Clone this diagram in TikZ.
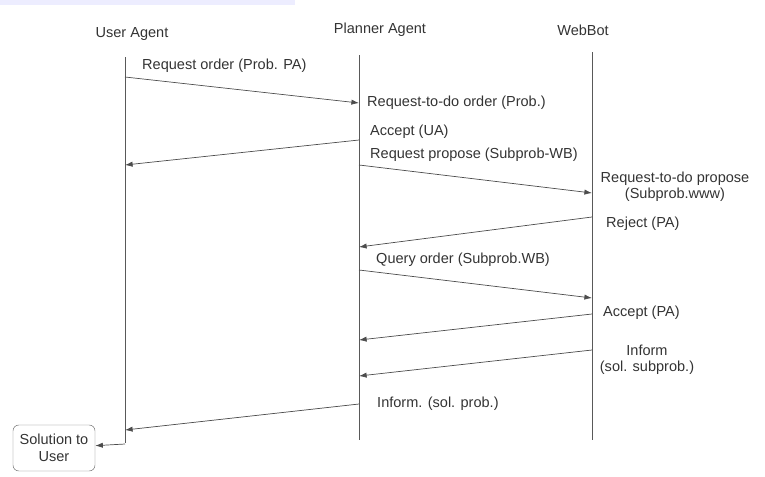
\documentclass[tikz,border=0pt]{standalone}
\usepackage{fontspec}
\setmainfont{Liberation Sans}
\usetikzlibrary{arrows.meta, positioning, calc}

\begin{document}
\begin{tikzpicture}[
  x=0.03cm, y=-0.03cm,
  >={Latex[length=6.5pt,width=4.5pt]},
  font=\fontsize{12.4}{14}\selectfont, text=black!80,
  life/.style   = {draw=black!65, line width=0.6pt},
  msg/.style    = {->, draw=black!70, line width=0.6pt},
  lbl/.style    = {inner sep=0pt, anchor=west},
  note/.style   = {inner sep=0pt, align=center},
  result/.style = {draw=black!55, rounded corners=5pt, align=center,
                   minimum width=82*0.03cm, minimum height=46*0.03cm, inner sep=1pt},
]
  \useasboundingbox (0,0) rectangle (765,476);
  \fill[blue!7] (0,0) rectangle (295,5);

  % agents
  \node[note] (ua) at (132,34) {User Agent};
  \node[note] (pa) at (380,30) {Planner Agent};
  \node[note] (wb) at (583,30) {WebBot};

  % lifelines
  \coordinate (uaT) at (125,57);  \coordinate (uaB) at (125,443);
  \coordinate (paT) at (359,55);  \coordinate (paB) at (359,440);
  \coordinate (wbT) at (592,52);  \coordinate (wbB) at (592,440);
  \draw[life] (uaT) -- (uaB);
  \draw[life] (paT) -- (paB);
  \draw[life] (wbT) -- (wbB);

  % message ends
  \coordinate (m1s) at (125,77);   \coordinate (m1e) at (359,103);
  \coordinate (m2s) at (359,140);  \coordinate (m2e) at (125,165);
  \coordinate (m3s) at (359,165);  \coordinate (m3e) at (592,193);
  \coordinate (m4s) at (592,217);  \coordinate (m4e) at (359,247);
  \coordinate (m5s) at (359,270);  \coordinate (m5e) at (592,298);
  \coordinate (m6s) at (592,314);  \coordinate (m6e) at (359,340);
  \coordinate (m7s) at (592,350);  \coordinate (m7e) at (359,376);
  \coordinate (m8s) at (359,404);  \coordinate (m8e) at (125,430);
  \coordinate (m9s) at (125,444);

  \node[result] (sol) at (54,448) {Solution to\\User};

  \draw[msg] (m1s) -- (m1e);
  \draw[msg] (m2s) -- (m2e);
  \draw[msg] (m3s) -- (m3e);
  \draw[msg] (m4s) -- (m4e);
  \draw[msg] (m5s) -- (m5e);
  \draw[msg] (m6s) -- (m6e);
  \draw[msg] (m7s) -- (m7e);
  \draw[msg] (m8s) -- (m8e);
  \draw[msg] (m9s) -- (sol);

  % labels
  \node[lbl] (l1)  at (142,66)  {Request order (Prob. PA)};
  \node[lbl] (l1b) at (367,103) {Request-to-do order (Prob.)};
  \node[lbl] (l2)  at (370,132) {Accept (UA)};
  \node[lbl] (l3)  at (370,155) {Request propose (Subprob-WB)};
  \node[note] (l3b) at (675,187) {Request-to-do propose\\(Subprob.www)};
  \node[lbl] (l4)  at (606,224) {Reject (PA)};
  \node[lbl] (l5)  at (376,260) {Query order (Subprob.WB)};
  \node[lbl] (l6)  at (603,313) {Accept (PA)};
  \node[note] (l7) at (647,360) {Inform\\(sol. subprob.)};
  \node[lbl] (l8)  at (377,404) {Inform. (sol. prob.)};
\end{tikzpicture}
\end{document}
